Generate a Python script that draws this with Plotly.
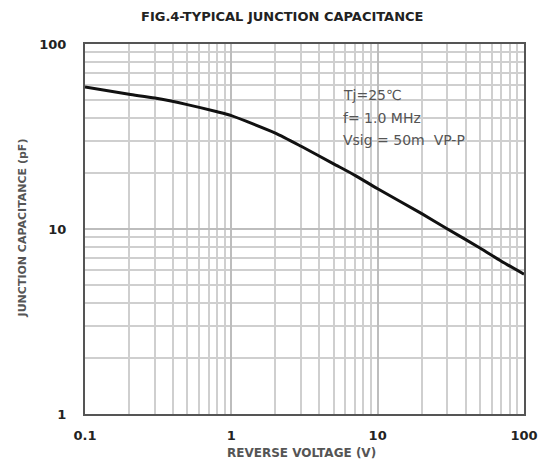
import plotly.graph_objects as go

# Reverse voltage (V) vs junction capacitance (pF)
voltage = [0.1, 0.2, 0.3, 0.5, 0.8, 1, 2, 3, 5, 7, 10, 20, 30, 50, 70, 100]
capacitance = [58.5, 53.5, 51, 47, 43, 41, 33, 28, 22.5, 19.5, 16.5, 12.1, 10, 7.9, 6.7, 5.7]

x_ticks = [0.1, 1, 10, 100]
x_tick_text = ["<b>0.1</b>", "<b>1</b>", "<b>10</b>", "<b>100</b>"]
y_ticks = [1, 10, 100]
y_tick_text = ["<b>1</b>", "<b>10</b>", "<b>100</b>"]

conditions = ["Tj=25℃", "f= 1.0 MHz", "Vsig = 50m  VP-P"]

# the page body has an 8px margin, so the figure sits at (8, 8) in the window
OFF = 8
W, H = 550 - OFF, 466 - OFF
L, T = 85 - OFF, 44 - OFF
R = W - (527 - OFF)
B = H - (414 - OFF)
pw, ph = W - L - R, H - T - B


def px(x):
    # window pixel -> paper coordinate
    return (x - OFF - L) / pw


def py(y):
    return (H - B - (y - OFF)) / ph


fig = go.Figure()
fig.add_trace(go.Scatter(
    x=voltage, y=capacitance, mode="lines",
    line=dict(color="#111", width=3, shape="spline", smoothing=0.6),
    showlegend=False, hoverinfo="skip",
))

tick_font = dict(family="DejaVu Sans", size=13, color="#222")
axis_common = dict(
    type="log", showline=True, linecolor="#555", linewidth=2, mirror=True,
    ticks="", tickfont=tick_font, zeroline=False,
    showgrid=True, gridcolor="#bdbdbd", gridwidth=1.5,
    minor=dict(showgrid=True, gridcolor="#cfcfcf", gridwidth=1.5, dtick="D1"),
)

fig.update_layout(
    width=W, height=H,
    margin=dict(l=L, r=R, t=T, b=B),
    paper_bgcolor="white", plot_bgcolor="white",
    xaxis=dict(range=[-1, 2], tickvals=x_ticks, ticktext=x_tick_text,
               ticklabelstandoff=8, **axis_common),
    yaxis=dict(range=[0, 2], tickvals=y_ticks, ticktext=y_tick_text,
               ticklabelstandoff=14, **axis_common),
)

# title
fig.add_annotation(xref="paper", yref="paper", x=px(283), y=py(16),
                   text="<b>FIG.4-TYPICAL JUNCTION CAPACITANCE</b>",
                   showarrow=False, xanchor="center", yanchor="middle",
                   font=dict(family="DejaVu Sans", size=13, color="#222"))
# axis titles
fig.add_annotation(xref="paper", yref="paper", x=px(303), y=py(453),
                   text="<b>REVERSE VOLTAGE (V)</b>",
                   showarrow=False, xanchor="center", yanchor="middle",
                   font=dict(family="DejaVu Sans", size=12, color="#555"))
fig.add_annotation(xref="paper", yref="paper", x=px(22), y=py(228),
                   text="<b>JUNCTION CAPACITANCE (pF)</b>", textangle=-90,
                   showarrow=False, xanchor="center", yanchor="middle",
                   font=dict(family="DejaVu Sans", size=11, color="#555"))

# white box behind the test conditions
fig.add_shape(type="rect", xref="paper", yref="paper",
              x0=px(332), x1=px(497), y0=py(152), y1=py(80),
              fillcolor="white", line=dict(width=0), layer="below")
for line, yy in zip(conditions, [95, 118, 140]):
    fig.add_annotation(xref="paper", yref="paper", x=px(343), y=py(yy),
                       text=line, showarrow=False, xanchor="left", yanchor="middle",
                       font=dict(family="DejaVu Sans", size=14, color="#555"))

fig.write_html("out.html")
